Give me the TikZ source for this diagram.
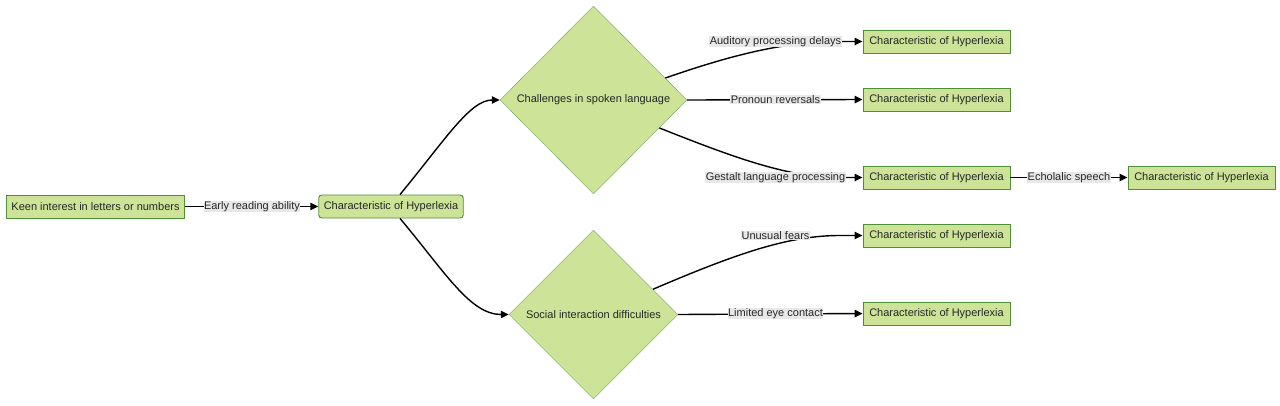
\documentclass[tikz,border=0pt]{standalone}
\usepackage{fontspec}
\setmainfont{Liberation Sans}
\usetikzlibrary{positioning}
\usetikzlibrary{shapes.geometric}
\usetikzlibrary{arrows.meta}

\definecolor{leaf}{HTML}{CDE498}
\definecolor{leafline}{HTML}{4F8F36}
\definecolor{labelbg}{HTML}{E8E8E8}

\begin{document}
\begin{tikzpicture}[x=1pt,y=-1pt, >={Triangle[length=8pt,width=7.5pt]},
    every node/.style={font=\fontsize{11}{13}\selectfont, text=black!85},
    box/.style={draw=leafline, fill=leaf, line width=0.9pt, minimum height=23pt, inner xsep=5pt, inner ysep=0pt},
    roundbox/.style={box, rounded corners=3pt},
    trait/.style={box, minimum width=147pt},
    choice/.style={diamond, draw=leafline!80, fill=leaf, inner sep=0pt, aspect=1},
    linklabel/.style={fill=labelbg, inner sep=0.5pt},
    link/.style={->, line width=1.4pt}]

    \useasboundingbox (0,0) rectangle (1280,405);

    % main nodes
    \node[box] (keen) at (95.5,206.5) {Keen interest in letters or numbers};
    \node[roundbox] (hyper) at (391,206.5) {Characteristic of Hyperlexia};
    \node[choice, minimum width=187pt, minimum height=188pt] (spoken) at (593.5,100) {Challenges in spoken language};
    \node[choice, minimum width=169pt, minimum height=169pt] (social) at (593.5,314.5) {Social interaction difficulties};

    % right column
    \node[trait] (delays) at (936.5,41.5) {Characteristic of Hyperlexia};
    \node[trait] (reversals) at (936.5,99.5) {Characteristic of Hyperlexia};
    \node[trait] (gestalt) at (936.5,177.5) {Characteristic of Hyperlexia};
    \node[trait] (echo) at (1201.5,177.5) {Characteristic of Hyperlexia};
    \node[trait] (fears) at (936.5,235.5) {Characteristic of Hyperlexia};
    \node[trait] (eyes) at (936.5,313.5) {Characteristic of Hyperlexia};

    % connectors
    \draw[link] (keen) -- (hyper);
    \draw[link] ([xshift=9pt]hyper.north) .. controls (445,140) and (470,100) .. (spoken.west);
    \draw[link] ([xshift=9pt]hyper.south) .. controls (445,272) and (470,314.5) .. (social.west);
    \draw[link] (spoken.17) .. controls (740,52) and (790,41.5) .. (840,41.5) -- (delays.west);
    \draw[link] (spoken.east) -- (reversals.west);
    \draw[link] (spoken.-23) .. controls (740,160) and (790,177.5) .. (840,177.5) -- (gestalt.west);
    \draw[link] (gestalt) -- (echo);
    \draw[link] (social.23) .. controls (740,252) and (790,235.5) .. (840,235.5) -- (fears.west);
    \draw[link] (social.east) -- (eyes.west);

    % labels on the connectors
    \node[linklabel] (lreading) at (252,206.5) {Early reading ability};
    \node[linklabel] (ldelays) at (775.5,41.5) {Auditory processing delays};
    \node[linklabel] (lreversals) at (775.5,99.5) {Pronoun reversals};
    \node[linklabel] (lgestalt) at (775.5,177.5) {Gestalt language processing};
    \node[linklabel] (lecho) at (1069,177.5) {Echolalic speech};
    \node[linklabel] (lfears) at (775.5,235.5) {Unusual fears};
    \node[linklabel] (leyes) at (775.5,313.5) {Limited eye contact};
\end{tikzpicture}
\end{document}
